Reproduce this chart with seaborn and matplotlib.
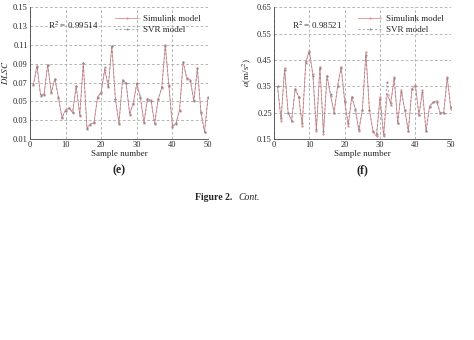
import numpy as np
import pandas as pd
import matplotlib
matplotlib.use("Agg")
import matplotlib.pyplot as plt
import seaborn as sns

samples = list(range(1, 51))

dlsc_sim = [0.068, 0.088, 0.057, 0.058, 0.089, 0.059, 0.074, 0.055, 0.033, 0.041,
            0.043, 0.038, 0.066, 0.035, 0.091, 0.022, 0.026, 0.027, 0.055, 0.060,
            0.083, 0.066, 0.109, 0.052, 0.027, 0.073, 0.069, 0.037, 0.048, 0.069,
            0.054, 0.028, 0.053, 0.051, 0.027, 0.052, 0.064, 0.110, 0.067, 0.024,
            0.027, 0.041, 0.092, 0.075, 0.073, 0.051, 0.085, 0.038, 0.018, 0.054]
dlsc_svr = [0.067, 0.087, 0.056, 0.057, 0.089, 0.060, 0.074, 0.054, 0.032, 0.040,
            0.043, 0.039, 0.066, 0.036, 0.091, 0.021, 0.025, 0.028, 0.054, 0.059,
            0.086, 0.065, 0.109, 0.053, 0.026, 0.072, 0.070, 0.036, 0.047, 0.069,
            0.055, 0.027, 0.052, 0.050, 0.026, 0.053, 0.065, 0.109, 0.066, 0.023,
            0.026, 0.040, 0.092, 0.074, 0.072, 0.050, 0.085, 0.039, 0.017, 0.055]

acc_sim = [0.35, 0.22, 0.42, 0.25, 0.22, 0.34, 0.31, 0.20, 0.445, 0.485,
           0.395, 0.18, 0.425, 0.17, 0.39, 0.315, 0.25, 0.35, 0.425, 0.295,
           0.20, 0.31, 0.265, 0.18, 0.26, 0.48, 0.26, 0.178, 0.16, 0.31,
           0.16, 0.32, 0.285, 0.385, 0.21, 0.335, 0.26, 0.18, 0.34, 0.355,
           0.24, 0.335, 0.18, 0.275, 0.29, 0.295, 0.25, 0.25, 0.385, 0.265]
acc_svr = [0.35, 0.23, 0.41, 0.25, 0.22, 0.34, 0.31, 0.21, 0.44, 0.48,
           0.39, 0.19, 0.42, 0.18, 0.39, 0.32, 0.25, 0.35, 0.42, 0.29,
           0.21, 0.31, 0.26, 0.19, 0.26, 0.47, 0.26, 0.18, 0.17, 0.30,
           0.17, 0.365, 0.28, 0.38, 0.21, 0.33, 0.26, 0.18, 0.34, 0.35,
           0.24, 0.33, 0.18, 0.27, 0.29, 0.29, 0.25, 0.25, 0.38, 0.27]

r2_texts = ["R$^2$ = 0.99514", "R$^2$ = 0.98521"]
ylabels = ["$DLSC$", "$a$(m/s$^2$)"]
panel_labels = ["(e)", "(f)"]
yticks_list = [[0.01, 0.03, 0.05, 0.07, 0.09, 0.11, 0.13, 0.15],
               [0.15, 0.25, 0.35, 0.45, 0.55, 0.65]]
xticks = [0, 10, 20, 30, 40, 50]

sns.set_theme(style="white")
plt.rcParams["font.family"] = ["Liberation Serif", "DejaVu Serif"]
plt.rcParams["mathtext.fontset"] = "stix"

fig = plt.figure(figsize=(4.74, 3.40), dpi=100)
axes = [fig.add_axes([0.063, 0.591, 0.376, 0.388]),
        fig.add_axes([0.578, 0.591, 0.373, 0.388])]

sim_color = "#e58a92"
svr_color = "#8a8a8a"

datasets = [(dlsc_sim, dlsc_svr), (acc_sim, acc_svr)]
for k, ax in enumerate(axes):
    sim, svr = datasets[k]
    df = pd.DataFrame({"x": samples, "sim": sim, "svr": svr})
    sns.lineplot(data=df, x="x", y="sim", ax=ax, color=sim_color, lw=0.6,
                 marker="o", markersize=1.6, markeredgewidth=0,
                 label="Simulink model")
    sns.lineplot(data=df, x="x", y="svr", ax=ax, color=svr_color, lw=0.5,
                 linestyle=(0, (3, 3)), marker="*", markersize=2.5,
                 markeredgewidth=0, label="SVR model")
    yt = yticks_list[k]
    ax.set_xlim(0, 50)
    ax.set_ylim(yt[0], yt[-1])
    ax.set_xticks(xticks)
    ax.set_yticks(yt)
    ax.set_yticklabels([f"{v:.2f}" for v in yt])
    ax.tick_params(labelsize=6, length=1.5, width=0.5, pad=1.5, direction="in")
    ax.grid(True, color="#9a9a9a", linestyle=(0, (4, 3)), linewidth=0.5)
    for s in ["top", "right"]:
        ax.spines[s].set_visible(False)
    for s in ["left", "bottom"]:
        ax.spines[s].set_color("#444444")
        ax.spines[s].set_linewidth(0.6)
    ax.set_xlabel("Sample number", fontsize=6.5, labelpad=0.5)
    ax.set_ylabel(ylabels[k], fontsize=6.5, labelpad=2)
    ax.text(0.1, 0.86, r2_texts[k], transform=ax.transAxes, fontsize=6.5,
            ha="left", va="center")
    ax.legend(loc="upper right", bbox_to_anchor=(1.0, 1.0), frameon=False,
              fontsize=6.5, handlelength=2.6, borderpad=0.3, labelspacing=0.35,
              handletextpad=0.5)
    ax.text(0.5, -0.235, panel_labels[k], transform=ax.transAxes, fontsize=8.5,
            fontweight="bold", ha="center", va="center")

fig.text(0.412, 0.42, "Figure 2.", fontsize=7, fontweight="bold",
         ha="left", va="center")
fig.text(0.503, 0.42, "Cont.", fontsize=7, style="italic",
         ha="left", va="center")

fig.savefig("out.png", dpi=100, facecolor="white")
